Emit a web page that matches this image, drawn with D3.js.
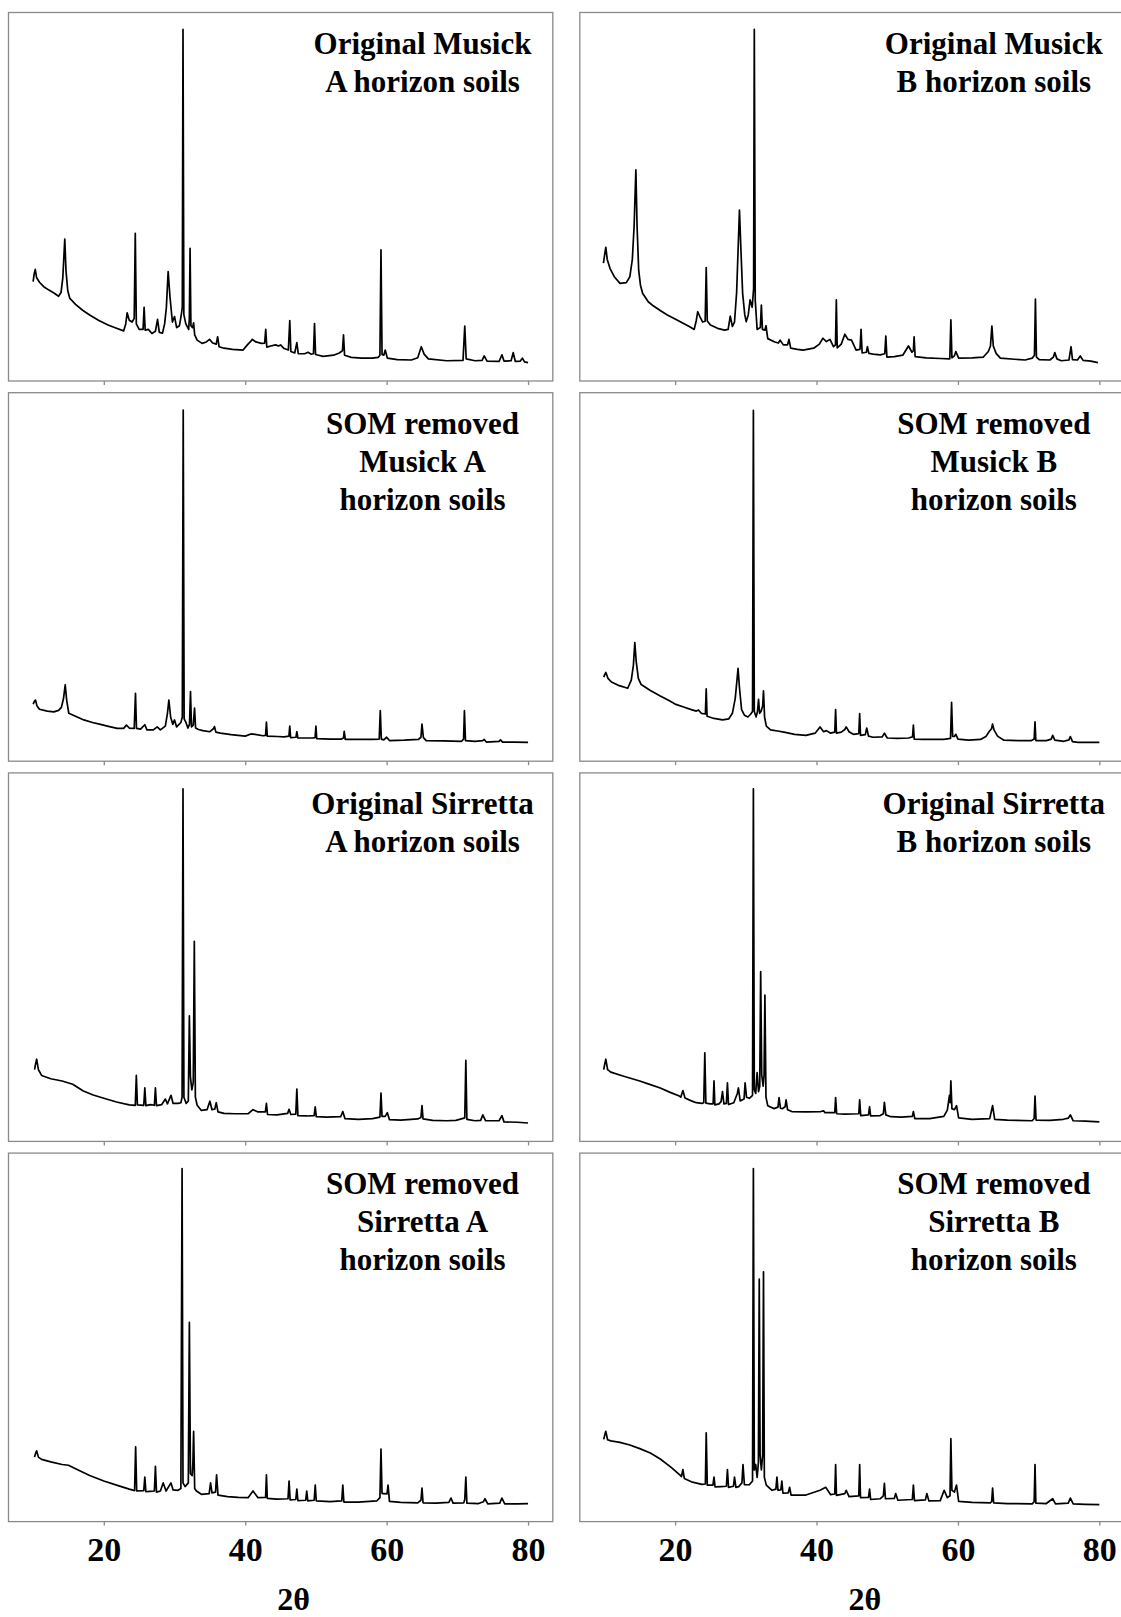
<!DOCTYPE html>
<html>
<head>
<meta charset="utf-8">
<script src="https://cdn.jsdelivr.net/npm/d3@7"></script>
<style>
  body { margin: 0; background: #fff; }
  svg { display: block; }
  .title { font-family: "Liberation Serif", "Times New Roman", serif; font-weight: bold; font-size: 31px; fill: #000; }
  .tick-label { font-family: "Liberation Serif", "Times New Roman", serif; font-weight: bold; font-size: 34px; fill: #000; }
</style>
</head>
<body>
<div id="chart-area"></div>
<script>
// 2-theta / relative intensity (% of panel height)

var origMusickA = [[10.0,27.0],[10.15,29.0],[10.3,30.3],[10.5,28.0],[10.9,26.8],[11.5,25.6],[12.3,24.6],[13.0,23.8],[13.6,23.0],[13.95,24.0],[14.2,28.0],[14.48,38.5],[14.65,30.0],[14.9,24.5],[15.2,22.4],[16.0,20.8],[17.0,19.2],[18.0,17.9],[19.3,16.4],[20.6,15.2],[21.7,14.4],[22.8,13.6],[23.1,15.5],[23.3,18.5],[23.6,16.5],[24.0,16.0],[24.3,17.0],[24.45,40.1],[24.6,15.5],[25.0,14.0],[25.55,14.0],[25.7,20.0],[25.85,13.8],[26.3,14.0],[26.8,12.9],[27.3,13.5],[27.6,16.7],[27.85,13.2],[28.3,13.0],[28.6,15.5],[28.85,20.0],[29.1,29.7],[29.35,23.0],[29.7,16.0],[30.0,17.5],[30.3,14.5],[30.7,15.0],[30.95,17.9],[31.1,20.0],[31.2,95.4],[31.32,18.0],[31.6,15.5],[32.0,14.0],[32.1,17.0],[32.2,36.0],[32.32,15.0],[32.55,14.5],[32.7,15.8],[32.85,12.5],[33.2,11.1],[33.9,10.2],[34.5,10.6],[34.95,11.3],[35.4,10.3],[35.9,10.0],[36.1,12.0],[36.3,9.3],[37.0,8.9],[38.2,8.6],[39.7,8.4],[40.3,9.8],[40.8,10.8],[41.0,11.3],[41.5,10.6],[42.3,10.2],[42.75,10.3],[42.9,14.0],[43.05,9.2],[43.6,9.5],[44.3,9.8],[44.7,9.5],[45.0,9.8],[45.5,8.8],[46.1,8.4],[46.3,16.4],[46.45,8.0],[47.0,7.6],[47.3,10.4],[47.5,7.4],[48.4,7.4],[48.9,7.8],[49.3,7.3],[49.65,7.4],[49.8,15.6],[49.95,7.2],[51.0,6.7],[52.5,7.0],[53.3,7.6],[53.75,8.2],[53.9,12.5],[54.05,7.0],[55.0,6.4],[56.5,6.2],[58.0,6.2],[58.8,6.4],[59.05,7.0],[59.2,35.6],[59.35,7.2],[59.6,7.0],[59.8,8.4],[60.1,6.2],[61.5,5.8],[63.5,5.7],[64.4,6.3],[64.9,9.3],[65.3,7.3],[65.9,6.0],[68.5,5.5],[70.8,5.6],[71.05,14.9],[71.25,6.0],[72.5,5.5],[73.5,5.6],[73.8,6.8],[74.2,5.4],[75.9,5.3],[76.3,7.1],[76.6,5.4],[77.6,5.5],[77.9,7.7],[78.2,5.3],[78.9,5.4],[79.2,6.2],[79.5,5.2],[80.0,5.0]];

var origMusickB = [[9.86,32.0],[10.05,34.5],[10.2,36.3],[10.4,33.0],[10.8,30.5],[11.4,28.3],[12.2,26.5],[13.1,26.7],[13.6,28.3],[13.95,33.0],[14.2,42.0],[14.45,57.3],[14.62,42.0],[14.85,30.0],[15.1,26.0],[15.4,23.8],[16.2,21.5],[16.9,20.4],[18.0,19.0],[18.9,17.9],[20.0,16.8],[21.0,15.8],[22.0,14.8],[22.7,14.0],[23.0,16.5],[23.2,18.8],[23.5,17.5],[23.9,16.0],[24.25,16.2],[24.4,30.8],[24.55,16.3],[25.0,15.2],[26.0,14.3],[27.0,13.8],[27.5,14.0],[27.8,17.6],[28.1,14.8],[28.4,16.0],[28.7,24.0],[28.95,38.0],[29.1,46.4],[29.3,36.0],[29.55,23.8],[29.85,18.0],[30.05,16.1],[30.35,18.0],[30.6,22.0],[30.9,20.0],[31.1,25.0],[31.2,95.4],[31.33,22.0],[31.6,14.0],[32.05,14.5],[32.2,20.6],[32.35,14.0],[32.7,13.8],[32.85,15.0],[33.1,11.5],[34.1,10.6],[34.6,10.3],[34.85,11.1],[35.3,9.8],[35.9,9.8],[36.1,11.3],[36.35,8.9],[37.3,8.6],[38.1,8.4],[39.6,8.9],[40.4,10.0],[40.9,11.6],[41.4,10.7],[41.9,11.3],[42.4,9.3],[42.68,9.8],[42.8,22.0],[42.93,9.0],[43.5,10.0],[44.0,12.7],[44.45,11.3],[44.95,11.1],[45.6,8.4],[46.15,8.6],[46.3,14.0],[46.45,7.6],[47.05,7.8],[47.2,9.3],[47.4,7.5],[48.3,7.2],[49.0,7.1],[49.65,7.4],[49.8,12.2],[49.95,6.5],[51.0,6.6],[52.2,7.0],[53.0,9.5],[53.5,7.8],[53.7,8.2],[53.8,12.0],[53.95,6.6],[55.5,6.3],[57.5,6.1],[58.85,6.0],[59.0,16.6],[59.15,6.3],[59.5,6.8],[59.7,8.0],[60.1,6.2],[62.0,6.3],[63.6,6.5],[64.3,8.0],[64.6,9.5],[64.8,14.9],[65.0,9.5],[65.4,7.5],[66.0,6.2],[68.0,5.9],[69.5,5.7],[70.5,6.2],[70.82,7.0],[70.96,22.2],[71.1,6.5],[71.5,5.8],[73.0,5.7],[73.5,6.5],[73.7,7.7],[74.0,6.0],[74.6,5.5],[75.7,5.7],[76.0,9.3],[76.2,5.8],[76.9,5.7],[77.3,6.8],[77.7,5.6],[78.8,5.4],[79.8,5.0]];

var somMusickA = [[10.0,15.5],[10.2,16.3],[10.34,16.6],[10.55,15.0],[10.9,14.1],[12.0,13.6],[12.93,13.4],[13.6,13.8],[14.0,14.6],[14.3,17.0],[14.54,20.7],[14.75,16.5],[15.05,13.0],[16.0,12.2],[17.17,11.2],[18.4,10.5],[19.53,10.0],[20.8,9.4],[21.9,8.9],[22.8,8.9],[23.2,9.8],[23.6,9.0],[24.3,8.9],[24.48,18.4],[24.62,8.9],[25.2,8.7],[25.8,9.9],[26.1,8.5],[27.0,8.5],[27.55,9.3],[28.0,8.5],[28.7,9.5],[29.0,13.0],[29.2,16.6],[29.45,12.0],[29.75,10.0],[30.0,11.2],[30.3,9.3],[30.9,10.5],[31.1,12.0],[31.23,95.3],[31.36,11.5],[31.6,10.6],[31.89,9.0],[32.12,10.0],[32.26,18.9],[32.4,9.3],[32.65,9.8],[32.83,14.4],[32.98,9.0],[33.4,8.6],[34.0,8.3],[35.0,8.0],[35.5,8.8],[35.65,9.4],[35.85,7.9],[36.5,7.6],[38.0,7.2],[40.0,6.8],[40.8,7.4],[41.4,7.3],[42.5,6.9],[42.88,7.0],[43.0,10.6],[43.12,6.8],[44.5,6.7],[45.5,6.6],[46.18,6.8],[46.3,9.5],[46.42,6.4],[47.18,6.5],[47.3,8.0],[47.45,6.3],[48.5,6.3],[49.5,6.3],[49.88,6.4],[50.0,9.5],[50.12,6.1],[52.0,6.0],[53.6,6.0],[53.9,6.3],[54.0,8.1],[54.15,5.9],[56.0,5.9],[58.0,5.9],[58.95,6.0],[59.1,13.7],[59.25,6.0],[59.6,5.8],[60.0,6.5],[60.4,5.6],[62.5,5.7],[64.5,5.9],[64.85,6.5],[65.0,10.1],[65.2,6.4],[65.6,5.6],[68.0,5.5],[70.6,5.4],[70.88,6.0],[71.0,13.7],[71.15,5.6],[72.5,5.4],[73.6,5.6],[73.8,5.9],[74.1,5.2],[75.9,5.4],[76.1,5.8],[76.4,5.2],[78.0,5.2],[80.0,5.1]];

var somMusickB = [[9.9,22.8],[10.05,23.5],[10.2,24.1],[10.5,22.5],[11.0,21.5],[12.1,20.5],[13.3,19.8],[13.8,22.0],[14.1,26.0],[14.3,32.2],[14.5,27.0],[14.8,22.5],[15.2,20.8],[16.5,19.2],[17.9,17.7],[19.0,16.6],[20.0,15.5],[21.2,14.7],[22.3,14.0],[23.0,13.6],[23.3,13.9],[23.7,13.0],[24.28,12.8],[24.4,19.6],[24.52,12.2],[25.5,11.6],[26.7,11.2],[27.6,11.5],[28.1,13.0],[28.5,17.0],[28.75,22.0],[28.9,25.2],[29.1,20.0],[29.4,14.0],[29.8,12.5],[30.3,12.0],[30.7,12.8],[30.95,13.5],[31.07,95.2],[31.2,13.5],[31.45,12.0],[31.65,13.5],[31.8,16.8],[31.95,13.0],[32.15,13.5],[32.38,15.0],[32.5,19.1],[32.65,12.0],[32.9,9.5],[33.5,8.5],[34.5,8.2],[35.4,7.9],[36.9,7.3],[38.5,7.0],[39.8,7.6],[40.5,9.3],[41.0,8.0],[41.4,8.3],[42.0,7.6],[42.58,7.9],[42.7,14.0],[42.82,7.6],[43.5,7.9],[44.0,8.6],[44.2,9.3],[44.6,8.0],[45.2,7.3],[45.98,7.5],[46.1,12.9],[46.22,7.0],[46.9,7.2],[47.1,9.0],[47.35,6.8],[48.0,6.5],[49.3,6.6],[49.6,7.6],[50.0,6.3],[51.5,6.2],[53.0,6.3],[53.58,6.6],[53.7,9.8],[53.82,6.0],[55.0,5.9],[57.0,5.9],[58.0,5.9],[58.95,6.2],[59.1,16.0],[59.25,6.7],[59.5,6.7],[59.7,7.3],[60.0,6.0],[61.5,5.7],[63.2,5.9],[64.0,6.8],[64.4,8.0],[64.75,8.8],[64.9,10.1],[65.1,8.5],[65.6,6.8],[66.5,5.7],[68.5,5.6],[70.4,5.6],[70.78,6.0],[70.9,10.7],[71.02,5.6],[72.5,5.6],[73.2,6.0],[73.4,7.0],[73.7,5.7],[75.0,5.4],[75.7,5.8],[75.9,6.7],[76.2,5.3],[77.0,5.1],[78.5,5.1],[80.0,5.1]];

var origSirrettaA = [[10.2,19.5],[10.35,21.0],[10.5,22.3],[10.75,19.5],[11.2,17.9],[12.5,17.0],[14.1,16.4],[15.6,15.5],[17.1,13.7],[18.5,12.6],[20.0,11.7],[21.8,10.7],[23.6,9.9],[24.45,9.8],[24.6,17.9],[24.75,9.9],[25.65,9.8],[25.8,14.5],[25.95,9.7],[26.6,10.0],[27.15,9.8],[27.3,14.5],[27.45,9.7],[28.2,10.0],[28.7,11.5],[29.0,10.2],[29.5,12.5],[29.8,10.3],[30.5,10.3],[30.9,10.5],[31.07,12.0],[31.2,95.7],[31.33,12.0],[31.65,10.3],[31.95,11.0],[32.1,34.1],[32.25,17.5],[32.45,14.0],[32.65,16.0],[32.8,54.3],[32.95,12.0],[33.2,9.8],[33.8,8.4],[34.6,8.6],[35.0,10.9],[35.3,8.6],[35.7,8.8],[35.9,10.5],[36.15,8.0],[37.0,7.6],[38.5,7.5],[40.4,7.5],[41.1,8.6],[41.8,8.0],[42.85,8.0],[43.0,10.3],[43.15,7.3],[44.5,7.2],[46.0,7.6],[46.2,8.7],[46.45,7.3],[47.15,7.4],[47.3,14.2],[47.45,7.0],[48.7,6.9],[49.75,7.0],[49.9,9.4],[50.05,6.7],[51.5,6.6],[53.5,6.7],[53.8,8.1],[54.1,6.2],[56.0,6.0],[58.0,6.2],[59.05,6.6],[59.2,13.1],[59.35,6.8],[59.8,6.8],[60.1,7.8],[60.4,5.9],[62.0,5.8],[64.4,6.1],[64.85,6.5],[65.0,9.7],[65.15,6.1],[66.5,5.7],[68.5,5.6],[69.8,5.7],[71.05,6.4],[71.2,22.0],[71.35,6.0],[72.5,5.6],[73.3,5.7],[73.6,7.2],[74.0,5.6],[75.9,5.6],[76.3,7.0],[76.6,5.3],[78.5,5.2],[80.0,5.0]];

var origSirrettaB = [[9.9,19.5],[10.05,21.0],[10.2,22.3],[10.45,19.5],[10.9,18.8],[12.5,17.8],[15.0,16.4],[16.5,15.4],[17.9,14.5],[19.3,13.3],[20.6,12.3],[20.8,12.0],[21.1,13.8],[21.4,11.8],[22.3,11.0],[23.0,10.5],[23.8,10.3],[24.05,10.5],[24.2,24.0],[24.35,10.4],[25.0,10.2],[25.38,10.2],[25.5,16.4],[25.62,9.9],[26.2,10.2],[26.5,10.8],[26.7,13.5],[26.9,10.2],[27.25,10.3],[27.4,15.9],[27.55,10.0],[28.3,10.5],[28.8,13.0],[28.95,14.5],[29.2,11.0],[29.75,11.5],[29.9,15.9],[30.1,12.0],[30.5,11.7],[30.95,12.5],[31.07,95.7],[31.2,14.0],[31.4,13.0],[31.6,18.7],[31.8,13.5],[31.97,15.0],[32.1,46.1],[32.25,18.0],[32.45,15.0],[32.58,18.0],[32.7,39.7],[32.85,12.0],[33.1,9.7],[34.0,8.9],[34.55,9.3],[34.7,11.9],[34.9,9.0],[35.2,8.9],[35.55,9.4],[35.7,11.3],[35.9,8.6],[36.5,8.1],[38.5,8.0],[40.6,8.1],[41.0,8.3],[41.2,7.8],[42.58,7.8],[42.7,11.9],[42.85,7.5],[44.0,7.4],[45.98,7.5],[46.1,11.3],[46.25,7.0],[47.35,7.2],[47.5,9.4],[47.65,6.9],[49.0,7.0],[49.45,7.5],[49.6,10.6],[49.8,7.2],[50.5,6.7],[52.0,6.6],[53.55,6.8],[53.7,8.1],[53.9,6.2],[56.0,6.2],[58.0,6.8],[58.5,8.5],[58.8,12.5],[58.9,10.5],[59.0,16.4],[59.15,8.9],[59.5,8.6],[59.8,9.7],[60.1,6.4],[62.0,6.0],[64.5,6.2],[64.9,9.7],[65.2,6.0],[67.0,5.8],[70.5,5.6],[70.78,6.2],[70.9,12.3],[71.05,5.8],[73.0,5.7],[74.9,6.0],[75.6,6.3],[75.9,7.2],[76.3,5.6],[78.0,5.5],[80.0,5.3]];

var somSirrettaA = [[10.2,17.5],[10.35,18.5],[10.5,19.2],[10.75,17.5],[11.2,16.9],[12.5,16.2],[14.1,15.5],[15.0,15.3],[16.3,14.1],[18.0,12.5],[20.0,11.0],[21.8,9.9],[23.6,8.8],[24.35,8.4],[24.5,20.3],[24.65,8.3],[25.65,8.4],[25.8,12.1],[25.95,8.1],[26.5,8.2],[27.15,8.3],[27.3,15.0],[27.45,8.0],[28.0,8.3],[28.4,10.5],[28.8,8.3],[29.5,10.5],[29.8,8.6],[30.5,8.5],[30.9,9.0],[31.07,95.8],[31.2,10.5],[31.5,9.5],[31.95,10.5],[32.1,54.1],[32.25,13.0],[32.5,12.5],[32.6,16.0],[32.7,24.5],[32.85,9.0],[33.1,8.3],[33.8,7.4],[34.9,7.6],[35.1,10.5],[35.3,7.8],[35.8,8.0],[35.95,12.7],[36.15,7.2],[37.5,6.8],[39.0,6.6],[40.4,6.5],[41.1,8.3],[41.6,7.0],[41.8,6.5],[42.88,6.6],[43.0,12.7],[43.12,6.3],[44.5,6.1],[46.05,6.2],[46.2,11.0],[46.35,5.9],[47.15,6.0],[47.3,8.8],[47.45,5.7],[48.55,5.8],[48.7,8.3],[48.85,5.6],[49.75,5.8],[49.9,9.9],[50.05,5.6],[52.0,5.4],[53.65,5.6],[53.8,9.9],[53.95,5.3],[56.0,5.3],[58.6,5.6],[59.05,6.5],[59.2,19.7],[59.35,7.6],[59.6,7.6],[60.05,7.5],[60.2,9.9],[60.4,5.5],[62.0,5.2],[64.4,5.1],[64.85,5.8],[65.0,9.1],[65.15,5.1],[67.0,5.0],[68.8,5.2],[69.1,6.4],[69.4,5.0],[70.9,5.1],[71.05,6.0],[71.2,12.1],[71.35,5.0],[73.0,4.9],[73.7,5.4],[73.9,6.2],[74.3,4.8],[76.0,5.0],[76.3,6.4],[76.7,4.8],[78.5,4.8],[80.0,4.9]];

var somSirrettaB = [[9.9,22.3],[10.05,23.5],[10.2,24.5],[10.45,22.2],[10.9,21.9],[12.2,21.5],[13.6,20.8],[15.0,19.8],[16.5,18.6],[17.9,17.0],[19.4,14.8],[20.7,12.6],[20.9,12.2],[21.1,14.1],[21.3,11.7],[22.3,10.8],[23.8,10.1],[24.28,10.2],[24.4,24.1],[24.55,9.9],[25.35,9.9],[25.5,12.1],[25.65,9.4],[26.5,9.5],[27.25,9.6],[27.4,14.1],[27.55,9.3],[28.25,9.6],[28.4,12.1],[28.6,9.3],[29.0,9.5],[29.45,10.5],[29.6,15.5],[29.8,10.0],[30.5,10.0],[30.95,11.0],[31.07,95.8],[31.2,14.0],[31.4,15.5],[31.6,12.0],[31.78,16.0],[31.9,65.8],[32.02,18.0],[32.2,14.0],[32.38,18.0],[32.5,67.8],[32.62,12.0],[32.9,9.9],[33.7,8.5],[34.25,8.8],[34.4,12.1],[34.55,8.5],[34.95,8.6],[35.1,11.0],[35.25,7.7],[36.0,7.8],[36.2,9.3],[36.4,7.2],[38.5,7.2],[40.5,8.5],[41.3,9.3],[42.0,7.3],[42.58,7.5],[42.7,15.5],[42.82,7.1],[44.0,7.6],[44.2,8.5],[44.6,6.8],[45.98,7.0],[46.1,15.5],[46.22,6.5],[47.35,6.6],[47.5,8.8],[47.65,6.0],[49.0,6.2],[49.45,7.0],[49.6,10.4],[49.75,6.2],[51.0,6.3],[51.2,7.6],[51.5,5.8],[53.55,6.0],[53.7,9.9],[53.85,5.7],[55.4,5.9],[55.6,7.6],[55.9,5.6],[57.5,5.7],[58.05,8.5],[58.5,6.5],[58.88,7.0],[59.0,22.5],[59.15,8.5],[59.5,8.0],[59.8,9.9],[60.1,5.5],[62.0,5.2],[64.6,5.1],[64.78,5.5],[64.9,9.1],[65.05,5.1],[67.0,4.9],[70.5,4.8],[70.78,5.4],[70.9,15.5],[71.02,5.0],[72.5,4.9],[73.4,6.2],[73.8,4.8],[75.6,5.0],[75.9,6.4],[76.3,4.8],[78.0,4.7],[80.0,4.6]];

// panel order: row by row, left then right
var panelSeries = [origMusickA, origMusickB, somMusickA, somMusickB,
                   origSirrettaA, origSirrettaB, somSirrettaA, somSirrettaB];

var panelTitles = [
    ["Original Musick", "A horizon soils"],
    ["Original Musick", "B horizon soils"],
    ["SOM removed", "Musick A", "horizon soils"],
    ["SOM removed", "Musick B", "horizon soils"],
    ["Original Sirretta", "A horizon soils"],
    ["Original Sirretta", "B horizon soils"],
    ["SOM removed", "Sirretta A", "horizon soils"],
    ["SOM removed", "Sirretta B", "horizon soils"]
];

var tickValues = [20, 40, 60, 80];
var axisLabel = "2θ";

// layout
var svgW = 1121, svgH = 1617;
var panelW = 544.3, panelH = 368.5;
var colX = [8.5, 579.8];
var rowY = [12.5, 392.7, 772.9, 1153.1];

var svg = d3.select("#chart-area").append("svg")
    .attr("width", svgW)
    .attr("height", svgH);

svg.append("rect").attr("width", svgW).attr("height", svgH).attr("fill", "#fff");

// Scales (same for every panel)
var x = d3.scaleLinear()
    .domain([6.52, 83.5])
    .range([0, panelW]);

var y = d3.scaleLinear()
    .domain([0, 100])
    .range([panelH, 0]);

var line = d3.line()
    .x(function(d) { return x(d[0]); })
    .y(function(d) { return y(d[1]); });

panelSeries.forEach(function(series, i) {
    var row = Math.floor(i / 2), col = i % 2;
    var g = svg.append("g")
        .attr("transform", "translate(" + colX[col] + "," + rowY[row] + ")");

    g.append("rect")
        .attr("width", panelW)
        .attr("height", panelH)
        .attr("fill", "none")
        .attr("stroke", "#8a8a8a")
        .attr("stroke-width", 1.3);

    var isBottom = row === 3;
    var xAxis = d3.axisBottom(x)
        .tickValues(tickValues)
        .tickSize(4)
        .tickFormat(isBottom ? d3.format("d") : "");

    var axisG = g.append("g")
        .attr("transform", "translate(0," + panelH + ")")
        .call(xAxis);
    axisG.select(".domain").remove();
    axisG.selectAll(".tick line").attr("stroke", "#8a8a8a").attr("stroke-width", 1.3);
    axisG.selectAll(".tick text")
        .attr("class", "tick-label")
        .attr("font-family", null)
        .attr("font-size", null)
        .attr("fill", null)
        .attr("y", 39.5)
        .attr("dy", null);

    if (isBottom) {
        g.append("text")
            .attr("class", "tick-label")
            .attr("x", 285)
            .attr("y", panelH + 88)
            .attr("text-anchor", "middle")
            .style("font-size", "32px")
            .text(axisLabel);
    }

    g.append("path")
        .datum(series)
        .attr("d", line)
        .attr("fill", "none")
        .attr("stroke", "#000")
        .attr("stroke-width", 1.7)
        .attr("stroke-linejoin", "round");

    var title = g.append("text")
        .attr("class", "title")
        .attr("text-anchor", "middle");
    panelTitles[i].forEach(function(t, k) {
        title.append("tspan")
            .attr("x", 414)
            .attr("y", 41 + k * 38)
            .text(t);
    });
});
</script>
</body>
</html>
